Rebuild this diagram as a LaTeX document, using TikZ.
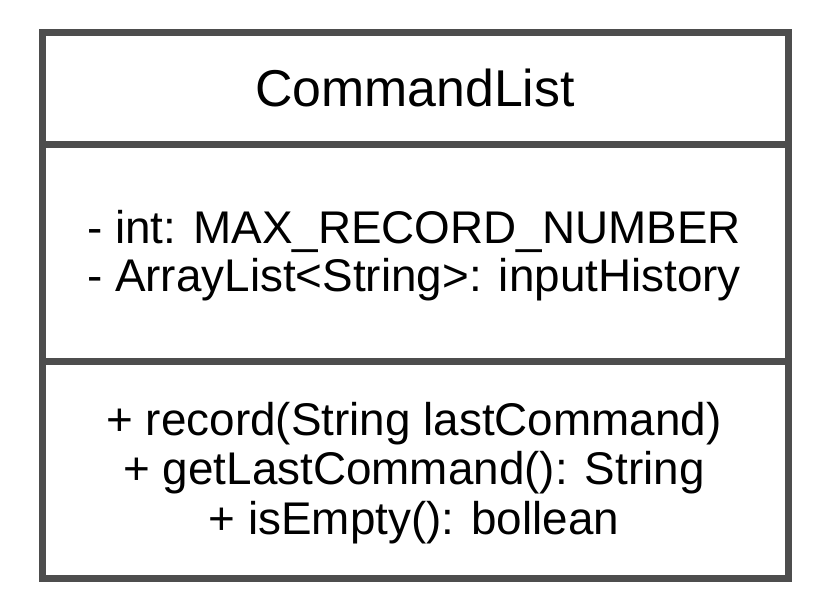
\documentclass[tikz,border=0pt]{standalone}
\usepackage{fontspec}
\setmainfont{Liberation Sans}
\definecolor{frame}{HTML}{4D4D4D}
\begin{document}
\begin{tikzpicture}[x=1bp,y=1bp,
  umlline/.style={draw=frame,line width=7bp},
  title/.style={inner sep=0pt,align=center,font=\fontsize{52}{60}\selectfont},
  members/.style={inner sep=0pt,align=center,font=\fontsize{46}{48}\selectfont},
  operations/.style={inner sep=0pt,align=center,font=\fontsize{46}{49.5}\selectfont}]
  \useasboundingbox (0,0) rectangle (820,614);
  % class box and compartment separators
  \coordinate (nw) at (42.5,581.5);
  \coordinate (se) at (788,35.5);
  \coordinate (d1w) at (42.5,469.5);
  \coordinate (d1e) at (788,469.5);
  \coordinate (d2w) at (42.5,252.5);
  \coordinate (d2e) at (788,252.5);
  \draw[umlline] (d1w) -- (d1e);
  \draw[umlline] (d2w) -- (d2e);
  \draw[umlline] (nw) rectangle (se);
  % compartments
  \node[title] (name) at (415,526) {CommandList};
  \node[members] (attrs) at (414,358.5) {- int: MAX\_RECORD\_NUMBER\\- ArrayList<String>: inputHistory};
  \node[operations] (ops) at (414,141) {+ record(String lastCommand)\\+ getLastCommand(): String\\+ isEmpty(): bollean};
\end{tikzpicture}
\end{document}
